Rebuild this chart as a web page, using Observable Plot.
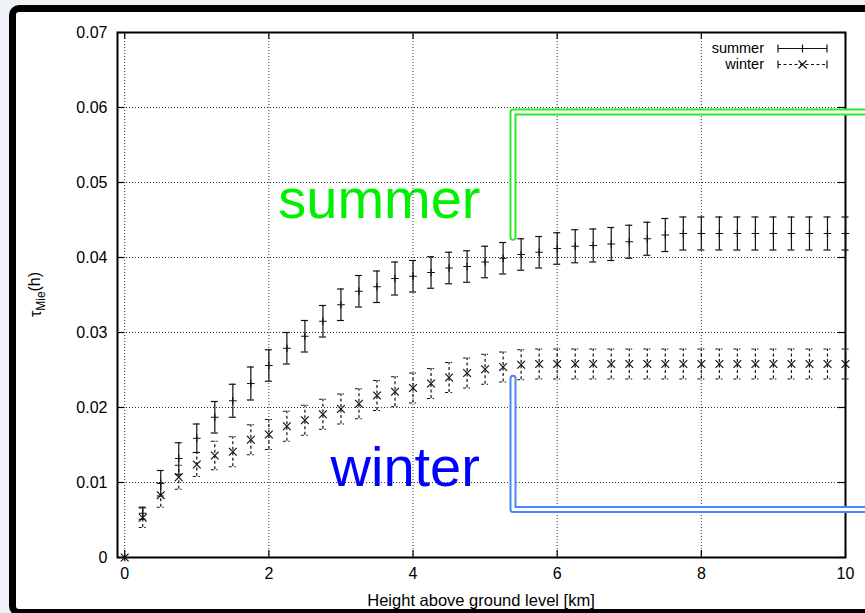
<!DOCTYPE html>
<html>
<head>
<meta charset="utf-8">
<script src="https://cdn.jsdelivr.net/npm/d3@7"></script>
<script src="https://cdn.jsdelivr.net/npm/@observablehq/plot@0.6"></script>
<style>
  html, body { margin: 0; padding: 0; background: #eef2f6; width: 865px; height: 613px; overflow: hidden; }
  #page { position: relative; width: 865px; height: 613px; }
  #sheet { position: absolute; left: 9px; top: 5px; width: 880px; height: 611px; box-sizing: border-box;
           background: #fff; border: 7px solid #000; border-radius: 10px; }
  #chart { position: absolute; left: 0; top: 0; }
</style>
</head>
<body>
<div id="page"><div id="sheet"></div><div id="chart"></div></div>
<script>
// Height above ground level [km], sampled every 250 m
const heights = [0, 0.25, 0.5, 0.75, 1, 1.25, 1.5, 1.75, 2, 2.25, 2.5, 2.75, 3, 3.25, 3.5, 3.75,
  4, 4.25, 4.5, 4.75, 5, 5.25, 5.5, 5.75, 6, 6.25, 6.5, 6.75, 7, 7.25, 7.5, 7.75,
  8, 8.25, 8.5, 8.75, 9, 9.25, 9.5, 9.75, 10];

// Integrated Mie optical depth tau_Mie(h), summer profile
const summerTau = [0, 0.0059, 0.0099, 0.0132, 0.0159, 0.0187, 0.0209, 0.0232, 0.0256, 0.0279, 0.0295, 0.0315,
  0.0337, 0.0355, 0.0361, 0.0372, 0.0375, 0.0380, 0.0386, 0.0388, 0.0394, 0.0399, 0.0404, 0.0407,
  0.0412, 0.0415, 0.0416, 0.0418, 0.0421, 0.0425, 0.0430, 0.0432, 0.0432, 0.0432, 0.0432, 0.0432,
  0.0432, 0.0432, 0.0432, 0.0432, 0.0432];
const summerErr = [0, 0.0008, 0.0017, 0.0021, 0.0019, 0.0021, 0.0022, 0.0022, 0.0021, 0.0021, 0.0021, 0.0021,
  0.0021, 0.0021, 0.0021, 0.0022, 0.0021, 0.0021, 0.0021, 0.0021, 0.0021, 0.0021, 0.0021, 0.0021,
  0.0021, 0.0022, 0.0022, 0.0022, 0.0022, 0.0022, 0.0022, 0.0022, 0.0022, 0.0022, 0.0022, 0.0022,
  0.0022, 0.0022, 0.0022, 0.0022, 0.0022];

// Winter profile
const winterTau = [0, 0.0053, 0.0083, 0.0107, 0.0124, 0.0136, 0.0141, 0.0157, 0.0164, 0.0175, 0.0183, 0.0191,
  0.0198, 0.0205, 0.0216, 0.0221, 0.0226, 0.0232, 0.0240, 0.0246, 0.0251, 0.0254, 0.0257, 0.0258,
  0.0258, 0.0258, 0.0258, 0.0258, 0.0258, 0.0258, 0.0258, 0.0258, 0.0258, 0.0258, 0.0258, 0.0258,
  0.0258, 0.0258, 0.0258, 0.0258, 0.0258];
const winterErr = [0, 0.0013, 0.0016, 0.0016, 0.0016, 0.0019, 0.0020, 0.0020, 0.0020, 0.0020, 0.0020, 0.0020,
  0.0020, 0.0020, 0.0020, 0.0020, 0.0020, 0.0020, 0.0020, 0.0020, 0.0020, 0.0020, 0.0020, 0.0020,
  0.0020, 0.0020, 0.0020, 0.0020, 0.0020, 0.0020, 0.0020, 0.0020, 0.0020, 0.0020, 0.0020, 0.0020,
  0.0020, 0.0020, 0.0020, 0.0020, 0.0020];

const xTicks = [0, 2, 4, 6, 8, 10];
const yTicks = [0, 0.01, 0.02, 0.03, 0.04, 0.05, 0.06, 0.07];
const seriesNames = ["summer", "winter"];

// Season call-outs (data coordinates)
const calloutText = ["summer", "winter"];
const calloutX = [2.13, 2.855];
const calloutY = [0.0453, 0.0095];
const calloutColor = ["#00f000", "#0000ff"];
const summerBracketX = [5.387, 5.387, 10.5];
const summerBracketY = [0.0427, 0.0594, 0.0594];
const winterBracketX = [5.387, 5.387, 10.5];
const winterBracketY = [0.0239, 0.0064, 0.0064];

const W = 865, H = 613;
const mL = 117, mR = 20, mT = 32, mB = 56;
const plotW = W - mL - mR, plotH = H - mT - mB;
const tickLen = 7;

const rows = (tau, err) => heights.map((h, i) => ({h, tau: tau[i], lo: tau[i] - err[i], hi: tau[i] + err[i], err: err[i]}));
const summer = rows(summerTau, summerErr);
const winter = rows(winterTau, winterErr);
const summerBars = summer.filter(d => d.err > 0);
const winterBars = winter.filter(d => d.err > 0);
const callouts = calloutText.map((t, i) => ({t, x: calloutX[i], y: calloutY[i], c: calloutColor[i]}));
const bracket = (xs, ys) => xs.map((x, i) => ({x, y: ys[i]}));

const dash = "3,2.5";
const ink = "#111";

function errorBars(data, extra) {
  return [
    Plot.ruleX(data, {x: "h", y1: "lo", y2: "hi", stroke: ink, strokeWidth: 1.2, ...extra}),
    Plot.ruleY(data, {x1: "h", x2: "h", y: "hi", insetLeft: -3.5, insetRight: -3.5, stroke: ink, strokeWidth: 1.2, ...extra}),
    Plot.ruleY(data, {x1: "h", x2: "h", y: "lo", insetLeft: -3.5, insetRight: -3.5, stroke: ink, strokeWidth: 1.2, ...extra})
  ];
}

function doubleLine(pts, color) {
  return [
    Plot.line(pts, {x: "x", y: "y", stroke: color, strokeWidth: 7, strokeLinejoin: "round", strokeLinecap: "round"}),
    Plot.line(pts, {x: "x", y: "y", stroke: "#fff", strokeWidth: 3, strokeLinejoin: "round", strokeLinecap: "round"})
  ];
}

const chart = Plot.plot({
  width: W,
  height: H,
  marginLeft: mL, marginRight: mR, marginTop: mT, marginBottom: mB,
  style: {fontFamily: "'Liberation Sans', Arial, Helvetica, sans-serif", fontSize: "16px", background: "transparent", color: "#000"},
  x: {domain: [-0.1, 10], ticks: xTicks, tickSize: 0, tickPadding: 10, label: null},
  y: {domain: [0, 0.07], ticks: yTicks, tickSize: 0, tickPadding: 10, label: null,
      tickFormat: d => d === 0 ? "0" : d.toFixed(2)},
  marks: [
    Plot.text(callouts, {x: "x", y: "y", text: "t", fill: "c", fontSize: 56, textAnchor: "start", lineAnchor: "bottom"}),
    Plot.ruleX(xTicks, {x: d => d, stroke: "#333", strokeWidth: 1, strokeDasharray: "1,2"}),
    Plot.ruleY(yTicks.slice(1, -1), {y: d => d, stroke: "#333", strokeWidth: 1, strokeDasharray: "1,2"}),
    Plot.tickX(xTicks, {x: d => d, insetTop: plotH - tickLen, stroke: "#000", strokeWidth: 1.2}),
    Plot.tickX(xTicks, {x: d => d, insetBottom: plotH - tickLen, stroke: "#000", strokeWidth: 1.2}),
    Plot.tickY(yTicks, {y: d => d, insetRight: plotW - tickLen, stroke: "#000", strokeWidth: 1.2}),
    Plot.tickY(yTicks, {y: d => d, insetLeft: plotW - tickLen, stroke: "#000", strokeWidth: 1.2}),
    Plot.frame({stroke: "#000", strokeWidth: 2}),
    ...errorBars(summerBars, {}),
    ...errorBars(winterBars, {strokeDasharray: dash}),
    Plot.dot(summer, {x: "h", y: "tau", symbol: "plus", r: 2.6, stroke: ink, strokeWidth: 1.2}),
    Plot.dot(winter, {x: "h", y: "tau", symbol: "times", r: 3.6, stroke: ink, strokeWidth: 1.2}),
    ...doubleLine(bracket(summerBracketX, summerBracketY), "#2ee82e"),
    ...doubleLine(bracket(winterBracketX, winterBracketY), "#4a86f5")
  ]
});

document.getElementById("chart").appendChild(chart);

const svg = d3.select(chart);
const font = "'Liberation Sans', Arial, Helvetica, sans-serif";

// Axis titles
svg.append("text")
  .attr("x", mL + plotW / 2).attr("y", 606)
  .attr("text-anchor", "middle")
  .style("font", `16.5px ${font}`)
  .text("Height above ground level [km]");

const yTitle = svg.append("text")
  .attr("transform", `translate(41,${mT + plotH / 2}) rotate(-90)`)
  .attr("text-anchor", "middle")
  .style("font", `16px ${font}`);
yTitle.append("tspan").text("τ");
yTitle.append("tspan").attr("dy", "0.3em").style("font-size", "12px").text("Mie");
yTitle.append("tspan").attr("dy", "-0.3em").text("(h)");

// Key, top-right inside the frame
const key = svg.append("g").style("font", `14.5px ${font}`);
seriesNames.forEach((name, i) => {
  const base = 53 + i * 16;
  const cy = base - 4.5;
  const g = key.append("g").attr("stroke", ink).attr("stroke-width", 1.2).attr("fill", "none");
  key.append("text").attr("x", 764).attr("y", base).attr("text-anchor", "end").attr("fill", "#000").text(name);
  const x0 = 778, x1 = 827, xm = (x0 + x1) / 2;
  const dashed = i === 1 ? dash : null;
  g.append("line").attr("x1", x0).attr("x2", x1).attr("y1", cy).attr("y2", cy).attr("stroke-dasharray", dashed);
  g.append("line").attr("x1", x0).attr("x2", x0).attr("y1", cy - 4).attr("y2", cy + 4);
  g.append("line").attr("x1", x1).attr("x2", x1).attr("y1", cy - 4).attr("y2", cy + 4);
  if (i === 0) {
    g.append("path").attr("d", `M${xm},${cy - 4}V${cy + 4}`);
  } else {
    g.append("path").attr("d", `M${xm - 4},${cy - 4}L${xm + 4},${cy + 4}M${xm - 4},${cy + 4}L${xm + 4},${cy - 4}`);
  }
});
</script>
</body>
</html>
